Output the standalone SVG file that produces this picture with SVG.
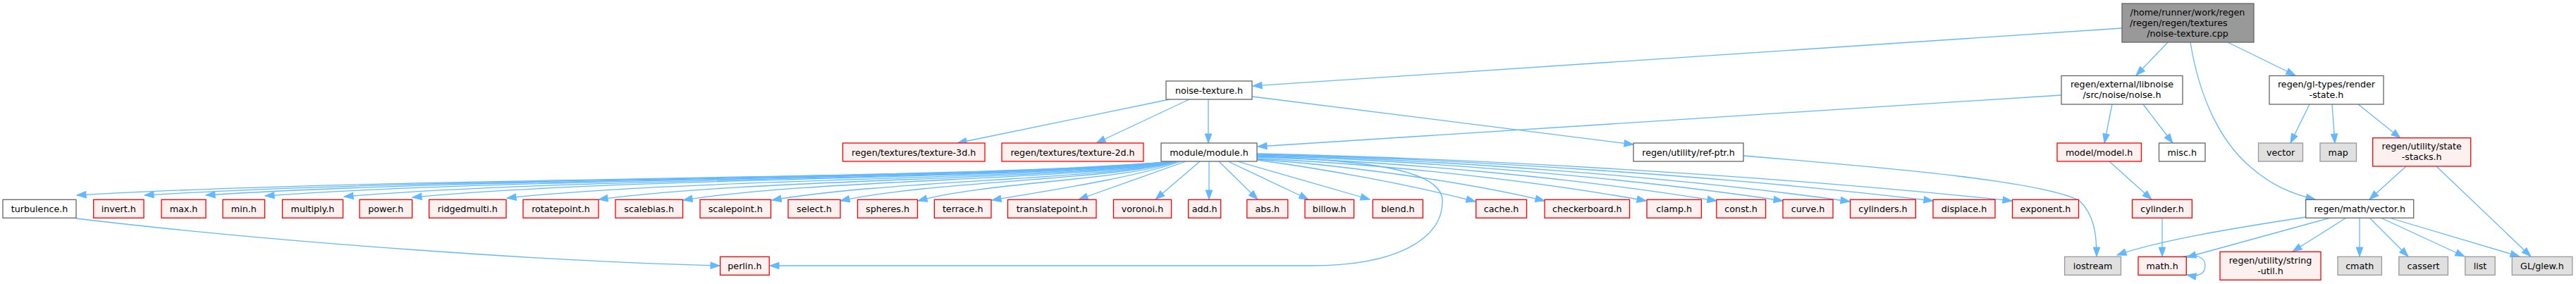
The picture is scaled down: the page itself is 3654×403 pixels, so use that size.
<svg xmlns="http://www.w3.org/2000/svg" width="3654" height="403" viewBox="0 0 3654 403">
<style>
text{font-family:"DejaVu Sans","Liberation Sans",sans-serif;font-size:12.7px;fill:#000;text-anchor:middle}
.n rect{fill:#fff;stroke:#666;stroke-width:1.3}
.r rect{fill:#fff0f0;stroke:#f00;stroke-width:1.3}
.g rect{fill:#e0e0e0;stroke:#999;stroke-width:1.3}
.root rect{fill:#999;stroke:#666;stroke-width:1.3}
#edges path{fill:none;stroke:#63b8ff;stroke-width:1.3;marker-end:url(#ah)}
</style>
<defs>
<marker id="ah" markerUnits="userSpaceOnUse" markerWidth="15" markerHeight="11" refX="13" refY="5" orient="auto" overflow="visible">
<path d="M0,0.3 L13,5 L0,9.7 Z" fill="#63b8ff" stroke="#63b8ff" stroke-width="1"/>
</marker>
</defs>
<rect width="3654" height="403" fill="#fff"/>
<g id="edges">
<path d="M3010,40 L1777,122"/>
<path d="M3075,60 L3030,107"/>
<path d="M3107,60 C3120,140 3150,200 3190,235 C3220,262 3250,275 3284,283"/>
<path d="M3160,60 L3256,107"/>
<path d="M1659,141 L1358,203"/>
<path d="M1687,141 L1555,203"/>
<path d="M1714,141 L1714,203"/>
<path d="M1776,137 L2317,205"/>
<path d="M2924,135 L1784,208"/>
<path d="M2996,148 L2985,203"/>
<path d="M3040,148 L3082,203"/>
<path d="M3276,148 L3249,203"/>
<path d="M3308,148 L3312,203"/>
<path d="M3345,148 L3405,196"/>
<path d="M3413,236 L3361,283"/>
<path d="M3456,236 L3590,364"/>
<path d="M3271,308 C3160,325 3060,342 3003,362"/>
<path d="M3306,309 L3102,365"/>
<path d="M3328,309 L3252,357"/>
<path d="M3347,309 L3347,364"/>
<path d="M3361,309 L3416,364"/>
<path d="M3377,309 L3496,364"/>
<path d="M3389,309 L3574,364"/>
<path d="M3094,365 C3115,358 3128,366 3128,377 C3128,389 3118,393 3102,390"/>
<path d="M3067,309 L3067,364"/>
<path d="M2992,229 L3052,283"/>
<path d="M2473,221 C2700,240 2900,258 2950,285 C2970,305 2974,330 2974,364"/>
<path d="M108,310 C400,345 800,372 1021,377"/>
<path d="M1783,222 C1960,228 2046,245 2046,285 C2046,340 1980,377 1860,377 L1092,377"/>
<path d="M1666,229 C1354,256 577,250 109,277"/>
<path d="M1666,229 C1374,256 640,250 205,277"/>
<path d="M1666,229 C1392,256 704,250 292,277"/>
<path d="M1666,229 C1408,256 764,250 376,278"/>
<path d="M1667,229 C1431,256 845,250 488,279"/>
<path d="M1667,229 C1451,256 909,250 585,280"/>
<path d="M1668,229 C1478,256 995,252 719,281"/>
<path d="M1668,229 C1504,256 1075,253 849,283"/>
<path d="M1669,229 C1529,256 1159,254 969,284"/>
<path d="M1669,229 C1554,256 1267,255 1095,284"/>
<path d="M1670,229 C1574,256 1327,256 1192,285"/>
<path d="M1671,229 C1595,256 1402,258 1302,285"/>
<path d="M1675,229 C1610,252 1490,270 1407,284"/>
<path d="M1682,229 L1530,283"/>
<path d="M1702,229 L1639,283"/>
<path d="M1715,229 L1715,283"/>
<path d="M1729,229 L1784,283"/>
<path d="M1742,229 L1856,283"/>
<path d="M1755,229 L1943,283"/>
<path d="M1783,227 C1880,240 2000,262 2093,286"/>
<path d="M1783,226 C1910,235 2080,258 2191,285"/>
<path d="M1783,225 C1950,232 2170,255 2335,285"/>
<path d="M1783,223 C1980,229 2240,253 2435,285"/>
<path d="M1783,221 C2010,227 2310,252 2529,285"/>
<path d="M1783,220 C2040,226 2380,251 2624,286"/>
<path d="M1783,219 C2070,225 2460,251 2742,285"/>
<path d="M1783,218 C2104,225 2533,251 2854,285"/>
</g>
<g id="root" class="root"><rect x="3010" y="5" width="187" height="55"/>
<text x="3103" y="21.5">/home/runner/work/regen</text><text x="3021" y="36.5" style="text-anchor:start">/regen/regen/textures</text><text x="3103" y="51.5">/noise-texture.cpp</text></g>
<g id="noise-texture-h" class="n"><rect x="1654" y="115" width="122" height="26"/><text x="1715" y="132.5">noise-texture.h</text></g>
<g id="libnoise" class="n"><rect x="2924" y="107.5" width="172" height="40.5"/><text x="3010" y="123.8">regen/external/libnoise</text><text x="3010" y="139">/src/noise/noise.h</text></g>
<g id="render-state" class="n"><rect x="3219" y="107.5" width="162" height="40.5"/><text x="3300" y="123.8">regen/gl-types/render</text><text x="3300" y="139">-state.h</text></g>
<g id="texture-3d" class="r"><rect x="1195.5" y="203" width="201.5" height="26"/><text x="1296.2" y="220.5">regen/textures/texture-3d.h</text></g>
<g id="texture-2d" class="r"><rect x="1421" y="203" width="201" height="26"/><text x="1521.5" y="220.5">regen/textures/texture-2d.h</text></g>
<g id="module" class="n"><rect x="1647" y="203" width="136" height="26"/><text x="1715" y="220.5">module/module.h</text></g>
<g id="ref-ptr" class="n"><rect x="2317" y="203" width="156" height="26"/><text x="2395" y="220.5">regen/utility/ref-ptr.h</text></g>
<g id="model" class="r"><rect x="2918" y="203" width="119.5" height="26"/><text x="2977.7" y="220.5">model/model.h</text></g>
<g id="misc" class="n"><rect x="3062.5" y="203" width="65.5" height="26"/><text x="3095.2" y="220.5">misc.h</text></g>
<g id="vector" class="g"><rect x="3203.5" y="203" width="63" height="26"/><text x="3235" y="220.5">vector</text></g>
<g id="map" class="g"><rect x="3291" y="203" width="51.5" height="26"/><text x="3316.7" y="220.5">map</text></g>
<g id="state-stacks" class="r"><rect x="3365.7" y="195.7" width="139" height="40.3"/><text x="3435.2" y="212">regen/utility/state</text><text x="3435.2" y="227">-stacks.h</text></g>
<g id="turbulence" class="n"><rect x="4" y="283.3" width="104" height="26"/><text x="56" y="300.8">turbulence.h</text></g>
<g id="invert" class="r"><rect x="132.7" y="283.3" width="71.3" height="26"/><text x="168.3" y="300.8">invert.h</text></g>
<g id="max" class="r"><rect x="229" y="283.3" width="63" height="26"/><text x="260.5" y="300.8">max.h</text></g>
<g id="min" class="r"><rect x="316" y="283.3" width="59.6" height="26"/><text x="345.8" y="300.8">min.h</text></g>
<g id="multiply" class="r"><rect x="400.5" y="283.3" width="86" height="26"/><text x="443.5" y="300.8">multiply.h</text></g>
<g id="power" class="r"><rect x="510" y="283.3" width="74.6" height="26"/><text x="547.3" y="300.8">power.h</text></g>
<g id="ridgedmulti" class="r"><rect x="608.6" y="283.3" width="109.4" height="26"/><text x="663.3" y="300.8">ridgedmulti.h</text></g>
<g id="rotatepoint" class="r"><rect x="742" y="283.3" width="107" height="26"/><text x="795.5" y="300.8">rotatepoint.h</text></g>
<g id="scalebias" class="r"><rect x="873" y="283.3" width="95.5" height="26"/><text x="920.7" y="300.8">scalebias.h</text></g>
<g id="scalepoint" class="r"><rect x="993" y="283.3" width="100.5" height="26"/><text x="1043.2" y="300.8">scalepoint.h</text></g>
<g id="select" class="r"><rect x="1118" y="283.3" width="74" height="26"/><text x="1155" y="300.8">select.h</text></g>
<g id="spheres" class="r"><rect x="1216.4" y="283.3" width="85.1" height="26"/><text x="1259" y="300.8">spheres.h</text></g>
<g id="terrace" class="r"><rect x="1325.4" y="283.3" width="80.6" height="26"/><text x="1365.7" y="300.8">terrace.h</text></g>
<g id="translatepoint" class="r"><rect x="1429.5" y="283.3" width="125.5" height="26"/><text x="1492.2" y="300.8">translatepoint.h</text></g>
<g id="voronoi" class="r"><rect x="1579.5" y="283.3" width="82.1" height="26"/><text x="1620.5" y="300.8">voronoi.h</text></g>
<g id="add" class="r"><rect x="1685.7" y="283.3" width="46" height="26"/><text x="1708.7" y="300.8">add.h</text></g>
<g id="abs" class="r"><rect x="1768.8" y="283.3" width="58" height="26"/><text x="1797.8" y="300.8">abs.h</text></g>
<g id="billow" class="r"><rect x="1851" y="283.3" width="69.5" height="26"/><text x="1885.7" y="300.8">billow.h</text></g>
<g id="blend" class="r"><rect x="1947.3" y="283.3" width="71" height="26"/><text x="1982.8" y="300.8">blend.h</text></g>
<g id="cache" class="r"><rect x="2093.7" y="283.3" width="71.9" height="26"/><text x="2129.6" y="300.8">cache.h</text></g>
<g id="checkerboard" class="r"><rect x="2191" y="283.3" width="120.6" height="26"/><text x="2251.3" y="300.8">checkerboard.h</text></g>
<g id="clamp" class="r"><rect x="2336" y="283.3" width="77.4" height="26"/><text x="2374.7" y="300.8">clamp.h</text></g>
<g id="const" class="r"><rect x="2434.8" y="283.3" width="69.7" height="26"/><text x="2469.6" y="300.8">const.h</text></g>
<g id="curve" class="r"><rect x="2529" y="283.3" width="71" height="26"/><text x="2564.5" y="300.8">curve.h</text></g>
<g id="cylinders" class="r"><rect x="2624.5" y="283.3" width="92.9" height="26"/><text x="2671" y="300.8">cylinders.h</text></g>
<g id="displace" class="r"><rect x="2742" y="283.3" width="88" height="26"/><text x="2786" y="300.8">displace.h</text></g>
<g id="exponent" class="r"><rect x="2854.5" y="283.3" width="94" height="26"/><text x="2901.5" y="300.8">exponent.h</text></g>
<g id="cylinder" class="r"><rect x="3024.5" y="283.3" width="84.9" height="26"/><text x="3067" y="300.8">cylinder.h</text></g>
<g id="math-vector" class="n"><rect x="3270.7" y="283.3" width="153" height="26"/><text x="3347.2" y="300.8">regen/math/vector.h</text></g>
<g id="perlin" class="r"><rect x="1021.6" y="364.3" width="69.6" height="26"/><text x="1056.4" y="381.8">perlin.h</text></g>
<g id="iostream" class="g"><rect x="2928.6" y="364.3" width="79.9" height="26"/><text x="2968.5" y="381.8">iostream</text></g>
<g id="math" class="r"><rect x="3033" y="364.3" width="68.3" height="26"/><text x="3067.1" y="381.8">math.h</text></g>
<g id="string-util" class="r"><rect x="3149" y="357.3" width="143" height="40"/><text x="3220.5" y="373.5">regen/utility/string</text><text x="3220.5" y="388.5">-util.h</text></g>
<g id="cmath" class="g"><rect x="3316" y="364.3" width="62.4" height="26"/><text x="3347.2" y="381.8">cmath</text></g>
<g id="cassert" class="g"><rect x="3402.8" y="364.3" width="69.6" height="26"/><text x="3437.6" y="381.8">cassert</text></g>
<g id="list" class="g"><rect x="3496.8" y="364.3" width="42.4" height="26"/><text x="3518" y="381.8">list</text></g>
<g id="glew" class="g"><rect x="3563.3" y="364.3" width="85.5" height="26"/><text x="3606" y="381.8">GL/glew.h</text></g>
</svg>
